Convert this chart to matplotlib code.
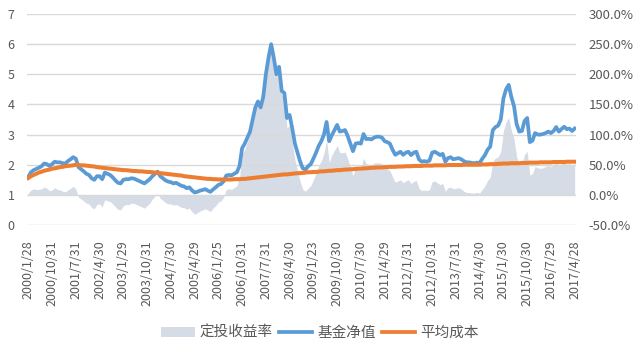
import matplotlib
matplotlib.use("Agg")
import matplotlib.pyplot as plt
from matplotlib.patches import Patch
from matplotlib.lines import Line2D
from matplotlib.ticker import FuncFormatter
import numpy as np

plt.rcParams['font.family'] = ['Noto Sans CJK SC', 'DejaVu Sans']

# Monthly fund NAV (基金净值), 2000/01 .. 2017/04
nav = [
    1.60, 1.75, 1.82, 1.86, 1.90, 1.95, 2.04, 2.02, 1.96, 2.02,
    2.10, 2.08, 2.08, 2.05, 2.04, 2.12, 2.18, 2.25, 2.20, 1.92,
    1.85, 1.78, 1.70, 1.66, 1.55, 1.50, 1.62, 1.62, 1.52, 1.74,
    1.70, 1.66, 1.58, 1.48, 1.40, 1.38, 1.50, 1.52, 1.52, 1.55,
    1.54, 1.50, 1.46, 1.42, 1.38, 1.45, 1.52, 1.62, 1.70, 1.77,
    1.62, 1.55, 1.48, 1.44, 1.42, 1.38, 1.40, 1.35, 1.30, 1.28,
    1.22, 1.25, 1.15, 1.08, 1.10, 1.14, 1.16, 1.19, 1.14, 1.10,
    1.18, 1.25, 1.33, 1.36, 1.45, 1.64, 1.66, 1.65, 1.70, 1.75,
    1.95, 2.55, 2.70, 2.90, 3.10, 3.50, 3.90, 4.10, 3.90, 4.25,
    5.00, 5.55, 6.00, 5.55, 5.00, 5.25, 4.45, 4.38, 3.55, 3.65,
    3.20, 2.70, 2.40, 2.10, 1.88, 1.84, 1.95, 2.02, 2.20, 2.40,
    2.62, 2.78, 3.00, 3.42, 2.78, 2.98, 3.15, 3.32, 3.10, 3.12,
    3.15, 2.95, 2.70, 2.45, 2.70, 2.72, 2.70, 3.02, 2.85, 2.86,
    2.84, 2.90, 2.93, 2.93, 2.90, 2.78, 2.75, 2.70, 2.50, 2.33,
    2.38, 2.43, 2.33, 2.40, 2.43, 2.32, 2.40, 2.43, 2.18, 2.10,
    2.12, 2.10, 2.14, 2.40, 2.43, 2.38, 2.32, 2.36, 2.10, 2.22,
    2.25, 2.18, 2.20, 2.22, 2.18, 2.12, 2.08, 2.08, 2.06, 2.05,
    2.07, 2.06, 2.20, 2.32, 2.50, 2.60, 3.15, 3.25, 3.30, 3.50,
    4.20, 4.50, 4.65, 4.25, 3.95, 3.35, 3.10, 3.12, 3.45, 3.55,
    2.75, 2.80, 3.05, 3.00, 3.00, 3.02, 3.05, 3.10, 3.05, 3.12,
    3.25, 3.10, 3.18, 3.26, 3.18, 3.20, 3.12, 3.20,
]

# Average cost (平均成本)
cost = [
    1.56, 1.62, 1.66, 1.70, 1.74, 1.77, 1.80, 1.82, 1.84, 1.87,
    1.88, 1.90, 1.92, 1.93, 1.95, 1.96, 1.97, 1.98, 2.00, 1.99,
    1.98, 1.98, 1.97, 1.96, 1.95, 1.94, 1.92, 1.91, 1.90, 1.89,
    1.88, 1.87, 1.86, 1.85, 1.84, 1.83, 1.82, 1.82, 1.81, 1.80,
    1.79, 1.79, 1.78, 1.78, 1.77, 1.76, 1.76, 1.75, 1.74, 1.73,
    1.72, 1.71, 1.70, 1.69, 1.68, 1.67, 1.66, 1.65, 1.64, 1.62,
    1.61, 1.60, 1.59, 1.58, 1.57, 1.56, 1.55, 1.54, 1.53, 1.53,
    1.52, 1.52, 1.51, 1.51, 1.51, 1.51, 1.51, 1.51, 1.52, 1.52,
    1.52, 1.53, 1.53, 1.54, 1.55, 1.56, 1.57, 1.58, 1.59, 1.60,
    1.61, 1.62, 1.63, 1.64, 1.65, 1.66, 1.67, 1.68, 1.68, 1.69,
    1.70, 1.71, 1.72, 1.72, 1.73, 1.74, 1.75, 1.75, 1.76, 1.76,
    1.77, 1.78, 1.78, 1.79, 1.80, 1.80, 1.81, 1.82, 1.82, 1.83,
    1.84, 1.84, 1.85, 1.85, 1.86, 1.87, 1.87, 1.88, 1.88, 1.89,
    1.90, 1.90, 1.91, 1.91, 1.91, 1.92, 1.92, 1.93, 1.93, 1.93,
    1.94, 1.94, 1.94, 1.95, 1.95, 1.95, 1.96, 1.96, 1.96, 1.96,
    1.97, 1.97, 1.97, 1.97, 1.98, 1.98, 1.98, 1.98, 1.98, 1.99,
    1.99, 1.99, 1.99, 1.99, 1.99, 2.00, 2.00, 2.00, 2.00, 2.00,
    2.00, 2.00, 2.01, 2.01, 2.01, 2.02, 2.02, 2.02, 2.03, 2.03,
    2.04, 2.04, 2.04, 2.05, 2.05, 2.05, 2.05, 2.06, 2.06, 2.06,
    2.07, 2.07, 2.07, 2.07, 2.08, 2.08, 2.08, 2.08, 2.08, 2.09,
    2.09, 2.09, 2.09, 2.09, 2.10, 2.10, 2.10, 2.10,
]

# Periodic-investment return (定投收益率), fraction
ret = [
    0.03, 0.08, 0.10, 0.09, 0.09, 0.10, 0.13, 0.11, 0.07, 0.08,
    0.12, 0.09, 0.08, 0.06, 0.05, 0.08, 0.11, 0.14, 0.10, -0.04,
    -0.07, -0.10, -0.14, -0.15, -0.21, -0.23, -0.16, -0.15, -0.20, -0.08,
    -0.10, -0.11, -0.15, -0.20, -0.24, -0.25, -0.18, -0.16, -0.16, -0.14,
    -0.14, -0.16, -0.18, -0.20, -0.22, -0.18, -0.14, -0.07, -0.02, 0.02,
    -0.06, -0.09, -0.13, -0.15, -0.15, -0.17, -0.16, -0.18, -0.21, -0.21,
    -0.24, -0.22, -0.28, -0.32, -0.30, -0.27, -0.25, -0.23, -0.25, -0.28,
    -0.22, -0.18, -0.12, -0.10, -0.04, 0.09, 0.10, 0.09, 0.12, 0.15,
    0.28, 0.67, 0.76, 0.88, 1.00, 1.24, 1.42, 1.52, 1.42, 1.60,
    2.00, 2.30, 2.48, 2.22, 1.95, 2.08, 1.66, 1.61, 1.11, 1.16,
    0.88, 0.58, 0.40, 0.22, 0.09, 0.06, 0.11, 0.15, 0.25, 0.36,
    0.48, 0.56, 0.69, 0.91, 0.54, 0.66, 0.74, 0.82, 0.70, 0.70,
    0.71, 0.60, 0.46, 0.32, 0.45, 0.45, 0.44, 0.61, 0.52, 0.51,
    0.49, 0.53, 0.53, 0.53, 0.52, 0.45, 0.43, 0.40, 0.30, 0.21,
    0.23, 0.25, 0.20, 0.23, 0.25, 0.19, 0.22, 0.24, 0.11, 0.07,
    0.08, 0.07, 0.09, 0.22, 0.23, 0.20, 0.17, 0.19, 0.06, 0.12,
    0.13, 0.10, 0.11, 0.12, 0.10, 0.06, 0.04, 0.04, 0.03, 0.03,
    0.04, 0.03, 0.09, 0.15, 0.24, 0.29, 0.56, 0.61, 0.63, 0.72,
    1.06, 1.21, 1.28, 1.07, 0.93, 0.63, 0.51, 0.51, 0.67, 0.72,
    0.33, 0.35, 0.47, 0.45, 0.44, 0.45, 0.47, 0.49, 0.47, 0.49,
    0.56, 0.48, 0.52, 0.56, 0.51, 0.52, 0.49, 0.52,
]

tick_labels = [
    "2000/1/28", "2000/10/31", "2001/7/31", "2002/4/30", "2003/1/29",
    "2003/10/31", "2004/7/30", "2005/4/29", "2006/1/25", "2006/10/31",
    "2007/7/31", "2008/4/30", "2009/1/23", "2009/10/30", "2010/7/30",
    "2011/4/29", "2012/1/31", "2012/10/31", "2013/7/31", "2014/4/30",
    "2015/1/30", "2015/10/30", "2016/7/29", "2017/4/28",
]
tick_step = 9

names = ["定投收益率", "基金净值", "平均成本"]
c_area = "#D6DCE5"
c_blue = "#5B9BD5"
c_orange = "#ED7D31"
txt = "#595959"

x = np.arange(len(nav))

fig = plt.figure(figsize=(6.4, 3.6), dpi=100)
ax = fig.add_axes([27/640, 0.375, (576-27)/640, 0.586])
ax2 = ax.twinx()

ax2.fill_between(x, 0, ret, color=c_area, linewidth=0)
ax2.set_ylim(-0.5, 3.0)
ax2.set_yticks(np.arange(-0.5, 3.01, 0.5))
ax2.yaxis.set_major_formatter(FuncFormatter(lambda v, p: f"{v*100:.1f}%"))

ax.plot(x, nav, color=c_blue, lw=2.7, solid_joinstyle='round')
ax.plot(x, cost, color=c_orange, lw=2.9, solid_joinstyle='round')
ax.set_ylim(0, 7)
ax.set_yticks(range(0, 8))
ax.set_xlim(-0.5, len(nav) - 0.5)
ax.set_xticks(x[::tick_step])
ax.set_xticklabels(tick_labels, rotation=90)
ax.grid(axis='y', color='#D9D9D9', lw=1)
ax.set_axisbelow(True)

ax.set_zorder(ax2.get_zorder() + 1)
ax.patch.set_visible(False)

for a in (ax, ax2):
    for s in a.spines.values():
        s.set_visible(False)
    a.tick_params(length=0, colors=txt, labelsize=9)
ax.tick_params(axis='y', pad=9)
ax.tick_params(axis='x', pad=11)
ax2.tick_params(axis='y', pad=9, labelsize=9.5)

handles = [
    Patch(facecolor=c_area, edgecolor='none'),
    Line2D([], [], color=c_blue, lw=2.7),
    Line2D([], [], color=c_orange, lw=2.7),
]
fig.legend(handles, names, loc='center', bbox_to_anchor=(320/640, 1 - 333/360),
           ncol=3, frameon=False, fontsize=10.5, handlelength=2.3,
           handletextpad=0.35, columnspacing=0.4, labelcolor=txt)

fig.savefig("out.png", dpi=100)
